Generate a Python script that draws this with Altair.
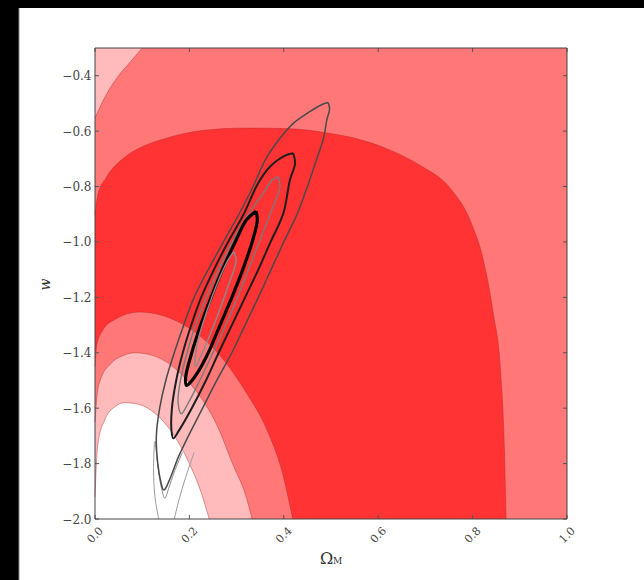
import altair as alt
import pandas as pd

# ---------------- axis ticks ----------------
x_ticks = [0.0, 0.2, 0.4, 0.6, 0.8, 1.0]
y_ticks = [-2.0, -1.8, -1.6, -1.4, -1.2, -1.0, -0.8, -0.6, -0.4]
x_domain = [0.0, 1.0]
y_domain = [-2.0, -0.3]

# ---------------- filled contour boundaries ----------------
corner_x = [0.0, 0.01, 0.03, 0.05, 0.07, 0.085, 0.10]
corner_y = [-0.553, -0.515, -0.45, -0.40, -0.36, -0.33, -0.30]

dark_x = [0.0, 0.006, 0.024, 0.059, 0.102, 0.146, 0.232, 0.319, 0.406, 0.493,
          0.553, 0.623, 0.692, 0.753, 0.796, 0.822, 0.844, 0.859, 0.867, 0.871]
dark_y = [-0.90, -0.83, -0.767, -0.70, -0.655, -0.628, -0.597, -0.589, -0.591, -0.607,
          -0.627, -0.667, -0.727, -0.807, -0.927, -1.06, -1.26, -1.46, -1.73, -2.0]

mid_x = [0.0, 0.004, 0.016, 0.042, 0.094, 0.146, 0.189, 0.232, 0.276, 0.319, 0.363, 0.397, 0.419]
mid_y = [-1.45, -1.37, -1.32, -1.28, -1.253, -1.267, -1.30, -1.353, -1.433, -1.54, -1.673, -1.833, -2.0]

pink_x = [0.0, 0.004, 0.011, 0.033, 0.06, 0.085, 0.128, 0.172, 0.215, 0.258, 0.293, 0.319, 0.333]
pink_y = [-1.65, -1.56, -1.50, -1.44, -1.41, -1.40, -1.413, -1.46, -1.54, -1.66, -1.807, -1.913, -2.0]

white_x = [0.0, 0.003, 0.007, 0.02, 0.042, 0.063, 0.094, 0.128, 0.163, 0.198, 0.224, 0.242]
white_y = [-1.92, -1.80, -1.72, -1.645, -1.595, -1.58, -1.587, -1.62, -1.687, -1.793, -1.9, -2.0]

# ---------------- line contours (closed loops) ----------------
outer_x = [0.494, 0.497, 0.491, 0.485, 0.470, 0.450, 0.428, 0.400, 0.373, 0.346, 0.318, 0.290,
           0.258, 0.228, 0.198, 0.177, 0.160, 0.148, 0.145,
           0.140, 0.133, 0.130, 0.137, 0.150, 0.168, 0.188, 0.210, 0.240, 0.272, 0.305, 0.335,
           0.362, 0.392, 0.420, 0.455, 0.480, 0.494]
outer_y = [-0.497, -0.52, -0.56, -0.62, -0.70, -0.80, -0.90, -1.00, -1.10, -1.20, -1.30, -1.40,
           -1.50, -1.60, -1.70, -1.775, -1.85, -1.893, -1.895,
           -1.87, -1.80, -1.70, -1.60, -1.50, -1.40, -1.30, -1.20, -1.10, -1.00, -0.90, -0.80,
           -0.70, -0.626, -0.572, -0.53, -0.505, -0.497]

mid2_x = [0.420, 0.424, 0.413, 0.399, 0.372, 0.346, 0.318, 0.290, 0.262, 0.235, 0.205, 0.178, 0.166,
          0.162, 0.163, 0.172, 0.186, 0.204, 0.225, 0.252, 0.282, 0.315, 0.345, 0.371, 0.406, 0.420]
mid2_y = [-0.680, -0.716, -0.776, -0.897, -1.00, -1.10, -1.20, -1.30, -1.40, -1.50, -1.60, -1.68, -1.709,
          -1.68, -1.60, -1.50, -1.40, -1.30, -1.20, -1.10, -1.00, -0.90, -0.79, -0.728, -0.686, -0.680]

gray2_x = [0.388, 0.392, 0.371, 0.348, 0.325, 0.302, 0.277, 0.250, 0.222, 0.198, 0.183,
           0.176, 0.181, 0.195, 0.213, 0.236, 0.262, 0.291, 0.325, 0.358, 0.376, 0.388]
gray2_y = [-0.764, -0.80, -0.90, -1.00, -1.10, -1.20, -1.30, -1.40, -1.50, -1.58, -1.62,
           -1.58, -1.50, -1.40, -1.30, -1.20, -1.10, -1.00, -0.90, -0.82, -0.776, -0.764]

thick_x = [0.341, 0.344, 0.333, 0.313, 0.290, 0.265, 0.240, 0.218, 0.203, 0.194,
           0.192, 0.205, 0.224, 0.246, 0.270, 0.297, 0.321, 0.341]
thick_y = [-0.889, -0.92, -1.00, -1.10, -1.20, -1.30, -1.40, -1.47, -1.505, -1.518,
           -1.49, -1.40, -1.30, -1.20, -1.10, -1.00, -0.92, -0.889]

inner_x = [0.294, 0.299, 0.284, 0.263, 0.240, 0.222, 0.213, 0.212, 0.219, 0.237, 0.259, 0.282, 0.294]
inner_y = [-1.035, -1.065, -1.15, -1.25, -1.35, -1.42, -1.45, -1.42, -1.35, -1.25, -1.15, -1.065, -1.035]

vee_x = [0.128, 0.134, 0.141, 0.148, 0.156, 0.168, 0.185]
vee_y = [-1.72, -1.82, -1.89, -1.925, -1.89, -1.83, -1.76]
openl_x = [0.135, 0.127, 0.124, 0.126]
openl_y = [-2.0, -1.92, -1.82, -1.72]
openr_x = [0.168, 0.178, 0.192, 0.210]
openr_y = [-2.0, -1.93, -1.85, -1.76]

# ---------------- styles ----------------
DARK = "#ff3333"
MED = "#ff7777"
PINK = "#ffbbbb"
EDGE = "#b02a2a"
SERIF = "DejaVu Serif"

W, H = 472, 471
TICK = 4

xs = alt.Scale(domain=x_domain, nice=False, zero=False)
ys = alt.Scale(domain=y_domain, nice=False, zero=False)

xax = alt.Axis(values=x_ticks, format=".1f", labelAngle=315, labelAlign="center",
               labelBaseline="middle", labelPadding=16, tickSize=0, domain=False, grid=False,
               labelFont=SERIF, labelFontSize=11, labelColor="#444", zindex=2,
               title="Ω", titleFont=SERIF, titleFontSize=16, titleFontWeight="normal",
               titleColor="#333", titleX=231, titleY=44, titleAlign="center",
               titleBaseline="alphabetic")
yax = alt.Axis(values=y_ticks, labelExpr="replace(format(datum.value, '.1f'), '-', '\u2212')",
               tickSize=0, labelPadding=4, domain=False, grid=False, zindex=2,
               labelFont=SERIF, labelFontSize=12, labelColor="#444",
               title="w", titleFont=SERIF, titleFontStyle="italic", titleFontSize=14,
               titleFontWeight="normal", titleColor="#333", titleAngle=270,
               titleX=-50, titleY=236, titleAlign="center", titleBaseline="middle")


def X(field="x"):
    return alt.X(f"{field}:Q", scale=xs, axis=xax)


def Y(field="y"):
    return alt.Y(f"{field}:Q", scale=ys, axis=yax)


def dfxy(xv, yv):
    return pd.DataFrame({"x": xv, "y": yv})


one = pd.DataFrame({"k": [0]})

panel = alt.Chart(one).mark_rect(color="white").encode(
    x=alt.value(-76), x2=alt.value(W + 77), y=alt.value(-40), y2=alt.value(H + 61))
panel_edge = alt.Chart(one).mark_rule(color="#888888", strokeWidth=1).encode(
    x=alt.value(-76), y=alt.value(-40), y2=alt.value(H + 61))
bg = alt.Chart(one).mark_rect(color=MED).encode(
    x=alt.value(0), x2=alt.value(W), y=alt.value(0), y2=alt.value(H))

layers = [panel, panel_edge, bg]

for (xv, yv, col, base) in [(corner_x, corner_y, PINK, -0.3),
                            (dark_x, dark_y, DARK, -2.0),
                            (mid_x, mid_y, MED, -2.0),
                            (pink_x, pink_y, PINK, -2.0),
                            (white_x, white_y, "#ffffff", -2.0)]:
    d = dfxy(xv, yv)
    layers.append(alt.Chart(d).mark_area(color=col, interpolate="monotone").encode(
        x=X(), y=Y(), y2=alt.datum(base)))
    layers.append(alt.Chart(d).mark_line(color=EDGE, strokeWidth=0.8, opacity=0.55,
                                         interpolate="monotone").encode(x=X(), y=Y()))

contours = [
    ("openl", openl_x, openl_y, "#9a9a9a", 1.0),
    ("openr", openr_x, openr_y, "#9a9a9a", 1.0),
    ("vee", vee_x, vee_y, "#8a8a8a", 1.0),
    ("outer", outer_x, outer_y, "#4a4a4a", 1.5),
    ("mid2", mid2_x, mid2_y, "#1e1e1e", 2.0),
    ("gray2", gray2_x, gray2_y, "#7a7a7a", 1.4),
    ("thick", thick_x, thick_y, "#050505", 3.2),
    ("inner", inner_x, inner_y, "#8a8a8a", 1.4),
]
for (name, xv, yv, col, w) in contours:
    d = pd.DataFrame({"x": xv, "y": yv, "i": list(range(len(xv)))})
    layers.append(alt.Chart(d).mark_line(color=col, strokeWidth=w, interpolate="catmull-rom",
                                         strokeJoin="round").encode(
        x=X(), y=Y(), order="i:Q"))

# inward tick marks on all four sides (matplotlib style)
xt = pd.DataFrame({"x": x_ticks})
yt = pd.DataFrame({"y": y_ticks})
tick_style = dict(color="#555555", strokeWidth=1)
layers += [
    alt.Chart(xt).mark_rule(**tick_style).encode(x=X(), y=alt.value(H), y2=alt.value(H - TICK)),
    alt.Chart(xt).mark_rule(**tick_style).encode(x=X(), y=alt.value(0), y2=alt.value(TICK)),
    alt.Chart(yt).mark_rule(**tick_style).encode(y=Y(), x=alt.value(0), x2=alt.value(TICK)),
    alt.Chart(yt).mark_rule(**tick_style).encode(y=Y(), x=alt.value(W), x2=alt.value(W - TICK)),
]

frame = alt.Chart(one).mark_rect(filled=False, stroke="#444444", strokeWidth=1).encode(
    x=alt.value(0), x2=alt.value(W), y=alt.value(0), y2=alt.value(H))
sub = alt.Chart(pd.DataFrame({"t": ["M"]})).mark_text(
    font=SERIF, fontSize=9, color="#333", align="left", baseline="alphabetic").encode(
    x=alt.value(W / 2 + 2), y=alt.value(H + 45), text="t:N")
layers += [frame, sub]

chart = alt.layer(*layers).properties(
    width=W, height=H,
    padding={"left": 95, "top": 48, "right": 77, "bottom": 61},
    autosize=alt.AutoSizeParams(type="none"),
).configure(background="#000000").configure_view(stroke=None)

chart.save("out.html", embed_options={"renderer": "svg", "actions": False})
